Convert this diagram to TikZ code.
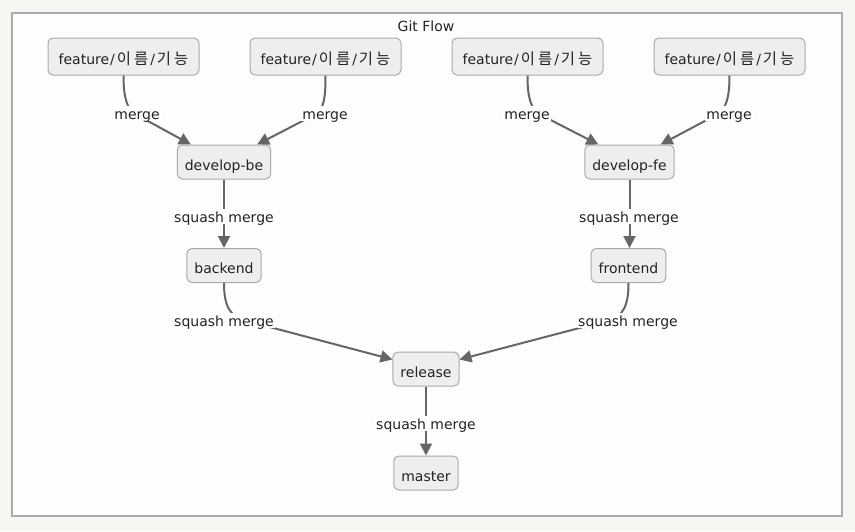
\documentclass[tikz,border=0pt]{standalone}
\usepackage{fontspec}
\setmainfont{DejaVu Sans}
\newfontfamily\ko[Scale=1.1]{Noto Sans CJK KR}
\usetikzlibrary{arrows.meta,calc}
\definecolor{bgout}{HTML}{F6F5F1}
\definecolor{framefill}{HTML}{FDFDFD}
\definecolor{frameline}{HTML}{AAAAAA}
\definecolor{boxfill}{HTML}{EEEEEE}
\definecolor{boxline}{HTML}{AAAAAA}
\definecolor{edgecol}{HTML}{666666}
\definecolor{txt}{HTML}{222222}
\newcommand{\feattext}{feature\kern1pt/\kern2pt{\ko 이\kern3pt 름}\kern2pt/\kern2pt{\ko 기\kern3pt 능}}
\tikzset{
  box/.style={draw=boxline, fill=boxfill, line width=1pt, rounded corners=5pt,
    minimum height=34pt, inner xsep=7.5pt, inner ysep=2pt, text=txt,
    text height=16pt, text depth=0pt,
    font=\fontsize{14}{16}\selectfont},
  feat/.style={box, minimum width=151pt, minimum height=37pt},
  edge/.style={draw=edgecol, line width=2pt, -{Triangle[length=12pt,width=12pt]}},
  lbl/.style={fill=white, inner sep=1pt, text=txt, text height=13pt, text depth=0pt,
    font=\fontsize{14}{16}\selectfont},
}
\begin{document}
\begin{tikzpicture}[x=1pt,y=-1pt]
\useasboundingbox (0,0) rectangle (855,531);
\fill[bgout] (0,0) rectangle (855,531);
\draw[frameline, fill=framefill, line width=2pt] (12,13) rectangle (842,516);
\node[text=txt, font=\fontsize{14}{16}\selectfont] (title) at (426,26) {Git Flow};

\node[feat] (f1) at (123.5,56.5) {\feattext};
\node[feat] (f2) at (325.5,56.5) {\feattext};
\node[feat] (f3) at (527.5,56.5) {\feattext};
\node[feat] (f4) at (729.5,56.5) {\feattext};
\node[box] (db) at (224,162) {develop-be};
\node[box] (df) at (629.5,162) {develop-fe};
\node[box] (be) at (224,265.5) {backend};
\node[box] (fe) at (628.5,265.5) {frontend};
\node[box] (rel) at (426,369) {release};
\node[box] (ms) at (426,473) {master};

\coordinate (p1) at (135,114);
\coordinate (p2) at (316,114);
\coordinate (p3) at (539,114);
\coordinate (p4) at (718,114);
\coordinate (p5) at (245,320.5);
\coordinate (p6) at (608,320.5);

\draw[edge] (f1.south) .. controls +(0,23) and +(-8,-6) .. (p1) -- ([xshift=14pt]db.north west);
\draw[edge] (f2.south) .. controls +(0,23) and +(8,-6) .. (p2) -- ([xshift=-14pt]db.north east);
\draw[edge] (f3.south) .. controls +(0,23) and +(-8,-6) .. (p3) -- ([xshift=14pt]df.north west);
\draw[edge] (f4.south) .. controls +(0,23) and +(8,-6) .. (p4) -- ([xshift=-14pt]df.north east);
\draw[edge] (db.south) -- (be.north);
\draw[edge] (df.south) -- (df.south |- fe.north);
\draw[edge] (be.south) .. controls +(0,23) and +(-15,-4) .. (p5) -- ([yshift=-8pt]rel.north west);
\draw[edge] (fe.south) .. controls +(0,23) and +(15,-4) .. (p6) -- ([yshift=-8pt]rel.north east);
\draw[edge] (rel.south) -- (ms.north);

\node[lbl] (l1) at (137,113) {merge};
\node[lbl] (l2) at (325,113) {merge};
\node[lbl] (l3) at (527,113) {merge};
\node[lbl] (l4) at (729,113) {merge};
\node[lbl] (l5) at (224,216) {squash merge};
\node[lbl] (l6) at (629,216) {squash merge};
\node[lbl] (l7) at (224,320) {squash merge};
\node[lbl] (l8) at (628,320) {squash merge};
\node[lbl] (l9) at (426,423) {squash merge};
\end{tikzpicture}
\end{document}
